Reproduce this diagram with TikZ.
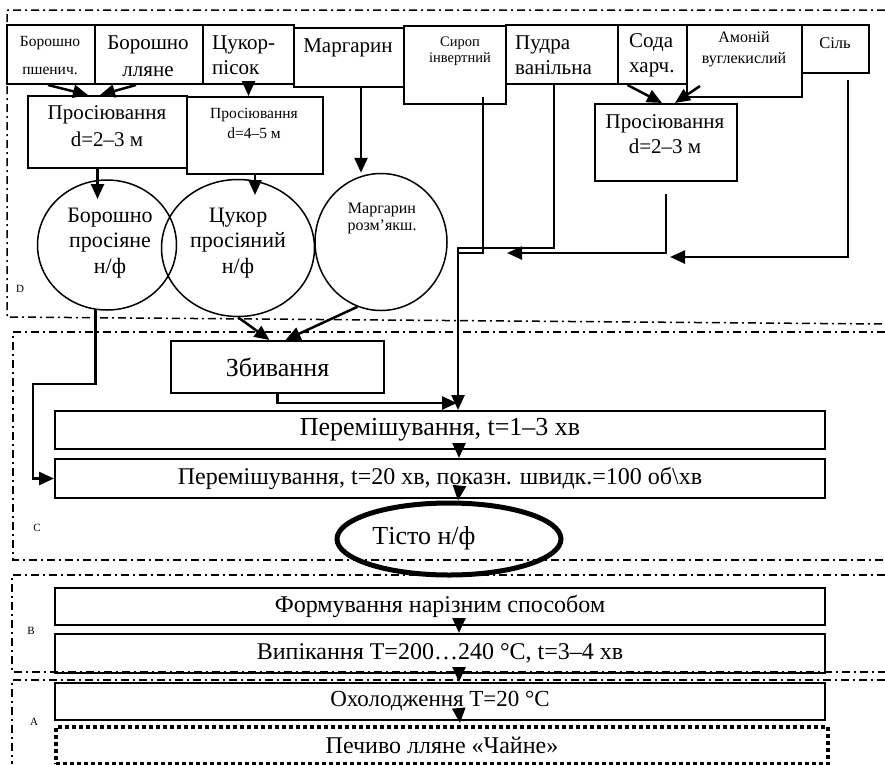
\documentclass[tikz,border=0pt]{standalone}
\usepackage{fontspec}
\setmainfont{Liberation Serif}
\usetikzlibrary{arrows.meta,calc,shapes.geometric}
\newcommand{\myfb}[1]{\fontsize{21}{#1}\selectfont}
\newcommand{\myfs}[1]{\fontsize{15.5}{#1}\selectfont}
\newcommand{\myfl}[1]{\fontsize{#1}{#1}\selectfont}
\begin{document}
\begin{tikzpicture}[x=1pt,y=-1pt,
  box/.style={draw, line width=2pt, inner sep=0pt, anchor=north west},
  txt/.style={inner sep=0pt, align=center},
  arr/.style={line width=2.5pt, -{Triangle[length=15pt,width=13pt]}},
  ln/.style={line width=2.5pt},
  zone/.style={line width=1.5pt, dash pattern=on 8pt off 4pt on 2pt off 4pt},
  circ/.style={draw, ellipse, line width=1.5pt, inner sep=0pt},
  lab/.style={font=\fontsize{11}{12}\selectfont, inner sep=0pt}]
\useasboundingbox (0,0) rectangle (885,764);

% zones
\draw[zone] (885,10) -- (7,10) -- (7,317) -- (885,324);
\draw[zone] (885,332) -- (13,332) -- (13,560) -- (885,560);
\draw[zone] (885,575) -- (12,575) -- (12,672) -- (885,672);
\draw[zone] (885,680) -- (12,680) -- (12,764);
\node[lab] (lD) at (20,289) {D};
\node[lab] (lC) at (37,528) {C};
\node[lab] (lB) at (31,631) {B};
\node[lab] (lA) at (34,722) {A};

% top row
\node[box, minimum width=88pt, minimum height=59pt] (b1) at (6,24) {};
\node[box, minimum width=108pt, minimum height=59pt] (b2) at (94,24) {};
\node[box, minimum width=91pt, minimum height=59pt] (ts) at (202,24) {};
\node[box, minimum width=110pt, minimum height=59pt] (mg) at (293,27) {};
\node[box, minimum width=102pt, minimum height=78pt] (sr) at (403,25) {};
\node[box, minimum width=112pt, minimum height=59pt] (pv) at (505,24) {};
\node[box, minimum width=69pt, minimum height=59pt] (sd) at (617,24) {};
\node[box, minimum width=115pt, minimum height=72pt] (am) at (686,24) {};
\node[box, minimum width=67pt, minimum height=48pt] (sl) at (801,24) {};

\node[txt, font=\myfs{28}] (b1t) at (50,56) {Борошно\\пшенич.};
\node[txt, font=\myfb{27}] (b2t) at (148,56.5) {Борошно\\лляне};
\node[txt, align=left, anchor=west, font=\myfb{25}] (tst) at (212,55.5) {Цукор-\\пісок};
\node[txt, font=\myfb{25}] (mgt) at (348,48) {Маргарин};
\node[txt, font=\fontsize{14.5}{16}\selectfont] (srt) at (460,51) {Сироп\\інвертний};
\node[txt, align=left, anchor=west, font=\myfb{25}] (pvt) at (515,55.5) {Пудра\\ванільна};
\node[txt, align=left, anchor=west, font=\myfb{25}] (sdt) at (629,55.5) {Сода\\харч.};
\node[txt, font=\fontsize{16}{21}\selectfont] (amt) at (744,49.5) {Амоній\\вуглекислий};
\node[txt, font=\fontsize{16.5}{18}\selectfont] (slt) at (835,43) {Сіль};

% second row
\node[box, minimum width=159pt, minimum height=72pt] (p1) at (27,95) {};
\node[box, minimum width=136pt, minimum height=77pt] (p2) at (186,96) {};
\node[box, minimum width=142pt, minimum height=77pt] (p3) at (594,103) {};
\node[txt, font=\myfb{27}] (p1t) at (107,126.5) {Просіювання\\d=2–3 м};
\node[txt, font=\myfs{20}] (p2t) at (254,123) {Просіювання\\d=4–5 м};
\node[txt, font=\myfb{25}] (p3t) at (665,134.5) {Просіювання\\d=2–3 м};

% circles
\node[circ, minimum width=139pt, minimum height=130pt] (c1) at (107,245) {};
\node[circ, minimum width=153pt, minimum height=137pt] (c2) at (238,248) {};
\node[circ, minimum width=132pt, minimum height=137pt] (c3) at (381,242) {};
\node[txt, font=\fontsize{22}{25.5}\selectfont] (c1t) at (110,243) {Борошно\\просіяне\\н/ф};
\node[txt, font=\fontsize{22}{25.5}\selectfont] (c2t) at (238,243) {Цукор\\просіяний\\н/ф};
\node[txt, font=\fontsize{16}{17}\selectfont] (c3t) at (382,218) {Маргарин\\розм’якш.};

% Збивання
\node[box, minimum width=213pt, minimum height=52pt, font=\myfl{26}] (zb) at (170,340) {Збивання};

% lower boxes
\node[box, minimum width=770pt, minimum height=38pt, font=\myfl{26}] (m1) at (54,410) {Перемішування, t=1–3 хв};
\node[box, minimum width=770pt, minimum height=39pt, font=\myfl{24}] (m2) at (54,458) {Перемішування, t=20 хв, показн. швидк.=100 об\textbackslash хв};
\node[draw, ellipse, line width=5pt, inner sep=0pt, minimum width=224pt, minimum height=72pt] (ti) at (449,539) {};
\node[txt, font=\myfl{26}] (tit) at (424,538) {Тісто н/ф};
\node[box, minimum width=770pt, minimum height=37pt, font=\myfl{24}] (fo) at (54,587) {Формування нарізним способом};
\node[box, minimum width=770pt, minimum height=39pt, font=\myfl{24}] (vy) at (54,633) {Випікання T=200…240 °C, t=3–4 хв};
\node[box, minimum width=770pt, minimum height=37pt, font=\myfl{23}] (oh) at (54,682) {Охолодження T=20 °C};
\node[box, line width=4pt, dash pattern=on 4pt off 3pt, minimum width=772pt, minimum height=37pt, font=\myfl{24}] (pe) at (54,725) {Печиво лляне «Чайне»};

% connectors, top
\draw[arr] ($(b1.south)+(-3,0)$) -- ($(p1.north west)+(61,0)$);
\draw[arr] ($(b2.south)+(-13,0)$) -- ($(p1.north west)+(73,0)$);
\draw[arr] (ts.south) -- (ts.south |- p2.north);
\coordinate (mgs) at ($(mg.south)+(12,0)$);
\draw[arr] (mgs) -- (mgs |- c3.north);
\draw[arr] ($(p1.south)+(-10,0)$) -- ++(0,30);
\draw[arr] (p2.south) -- ++(0,20);
\draw[arr] ($(sd.south)+(-25,0)$) -- ($(p3.north)+(-4,0)$);
\draw[arr] ($(am.south west)+(14,-12)$) -- ($(p3.north)+(9,0)$);

% right side lines
\coordinate (j1) at (458,248);
\draw[arr] ($(pv.south)+(-8,0)$) |- (j1) -- (j1 |- m1.north);
\coordinate (j2) at (458,253);
\draw[ln] ($(sr.south)+(28,-8)$) |- (j2);
\coordinate (a3) at (507,253);
\draw[arr] ($(p3.south)+(0,12)$) |- (a3);
\coordinate (a4) at (670,257);
\draw[arr] ($(sl.south)+(12.5,6)$) |- (a4);

% left line
\coordinate (l1) at (33,384);
\draw[arr] (c1.260) |- (l1) |- (m2.west);

% into Збивання and out
\draw[arr] (c2.south) -- ($(zb.north)+(-8,0)$);
\draw[arr] (c3.250) -- ($(zb.north)+(8,0)$);
\coordinate (zbe) at (457,403);
\draw[arr] (zb.south) |- (zbe);

% lower arrows
\draw[arr] ($(m1.south)+(19,-5)$) -- ($(m2.north)+(19,0)$);
\draw[arr] ($(m2.south)+(19,-9)$) -- ($(ti.north)+(9,0)$);
\draw[arr] ($(fo.south)+(19,-6)$) -- ($(vy.north)+(19,0)$);
\draw[arr] ($(vy.south)+(19,-6)$) -- ($(oh.north)+(19,0)$);
\draw[arr] ($(oh.south)+(19,-10)$) -- ($(pe.north)+(18,-2)$);
\end{tikzpicture}
\end{document}
